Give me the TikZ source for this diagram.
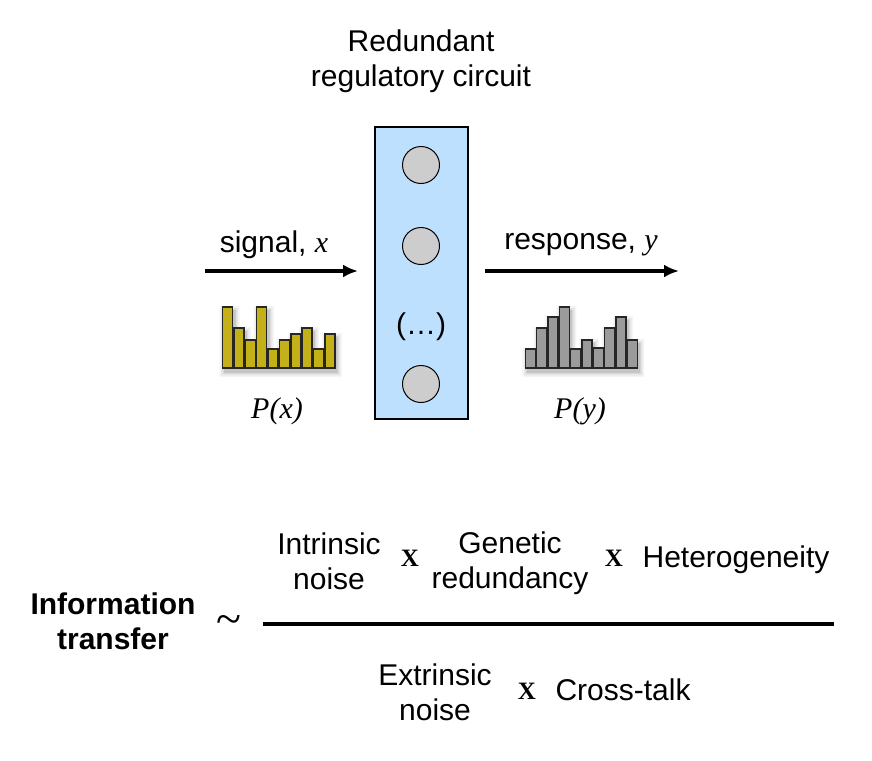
\documentclass[tikz,border=0pt]{standalone}
\usepackage{fontspec}
\setmainfont{Liberation Sans}
\newfontfamily\tms{Liberation Serif}
\usetikzlibrary{arrows.meta}
\definecolor{boxblue}{RGB}{190,224,255}
\definecolor{circgray}{RGB}{205,205,205}
\definecolor{ybarc}{RGB}{196,176,24}
\definecolor{gbarc}{RGB}{155,155,155}
\tikzset{
  lbl/.style={font=\fontsize{30}{35}\selectfont, align=center, inner sep=0pt},
  serif/.style={font=\fontsize{30}{35}\selectfont\tms\itshape, inner sep=0pt},
  times/.style={font=\fontsize{25}{28}\selectfont\tms\bfseries, inner sep=0pt},
  arr/.style={line width=3.8pt, -{Latex[length=15pt,width=13pt]}},
  barstyle/.style={draw=black!85, line width=1.4pt},
  dot/.style={circle, draw=black, line width=1pt, fill=circgray, minimum size=37pt, inner sep=0pt},
}
\begin{document}
\begin{tikzpicture}[x=1pt,y=-1pt]
\useasboundingbox (0,0) rectangle (872,760);
% title
\node[lbl] (title) at (421,61) {Redundant\\regulatory circuit};
% box
\node[draw=black, line width=2.4pt, fill=boxblue, minimum width=93pt, minimum height=292pt, inner sep=0pt] (box) at (421.5,273) {};
\node[dot] (c1) at (421,165) {};
\node[dot] (c2) at (421,246) {};
\node[lbl] (dots) at (421,327) {(…)};
\node[dot] (c3) at (421,384) {};
% arrows
\coordinate (s1) at (205,271);
\coordinate (s2) at (358,271);
\draw[arr] (s1) -- (s2);
\coordinate (r1) at (485,271);
\coordinate (r2) at (679,271);
\draw[arr] (r1) -- (r2);
\node[lbl] (sig) at (274,245) {signal, {\tms\itshape x}};
\node[lbl] (resp) at (581,245) {response, {\tms\itshape y}};
% shadows for histograms
\foreach \k/\o in {5/0.04,3.5/0.05,2/0.07,0.8/0.09}{
  \fill[black,opacity=\o] \foreach \i/\t in {0/307,1/328,2/340,3/307,4/349,5/340,6/334,7/328,8/349,9/334}{
    ({222.7+11.35*\i-\k+2},{\t-\k+4}) rectangle ({232.7+11.35*\i+\k+2},{368+\k+4})};
  \fill[black,opacity=\o] \foreach \i/\t in {0/349,1/328,2/317,3/307,4/349,5/340,6/348,7/328,8/317,9/340}{
    ({525.3+11.35*\i-\k+2},{\t-\k+4}) rectangle ({535.3+11.35*\i+\k+2},{368+\k+4})};
}
% histograms
\foreach \i/\t in {0/307,1/328,2/340,3/307,4/349,5/340,6/334,7/328,8/349,9/334}{
  \draw[barstyle, fill=ybarc] ({222.7+11.35*\i},\t) rectangle ({232.7+11.35*\i},368);
}
\foreach \i/\t in {0/349,1/328,2/317,3/307,4/349,5/340,6/348,7/328,8/317,9/340}{
  \draw[barstyle, fill=gbarc] ({525.3+11.35*\i},\t) rectangle ({535.3+11.35*\i},368);
}
\node[serif] (px) at (277,411) {P(x)};
\node[serif] (py) at (580,411) {P(y)};
% formula
\node[lbl, font=\fontsize{30}{35}\selectfont\bfseries] (info) at (113,621) {Information\\transfer};
\node[inner sep=0pt, font=\fontsize{46}{46}\selectfont\tms] (tilde) at (229,625) {\char"7E};
\coordinate (fl) at (263,624);
\coordinate (fr) at (834,624);
\draw[line width=4pt] (fl) -- (fr);
\node[lbl] (intr) at (329,561) {Intrinsic\\noise};
\node[times] (x1) at (410,558) {X};
\node[lbl] (gen) at (510,563) {Genetic\\redundancy};
\node[times] (x2) at (614,558) {X};
\node[lbl] (het) at (736,560) {Heterogeneity};
\node[lbl] (extr) at (435,692) {Extrinsic\\noise};
\node[times] (x3) at (527,691) {X};
\node[lbl] (cross) at (623,690) {Cross-talk};
\end{tikzpicture}
\end{document}
